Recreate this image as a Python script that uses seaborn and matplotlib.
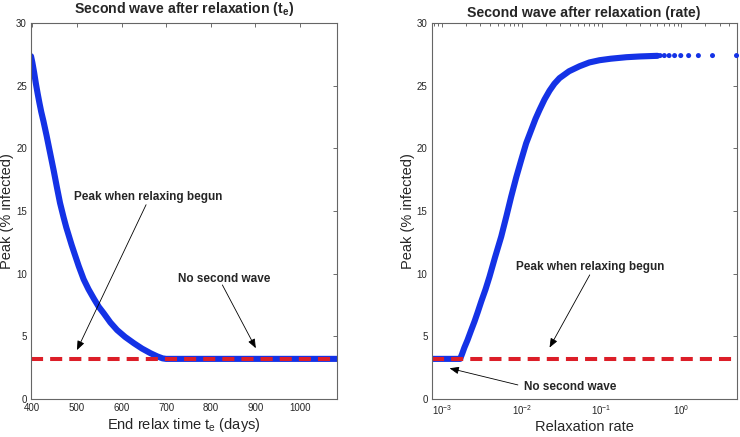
import numpy as np
import pandas as pd
import seaborn as sns
import matplotlib
matplotlib.use("Agg")
import matplotlib.pyplot as plt

# left panel: peak vs end of relaxation time
te_days = [397, 400, 404, 408, 412, 416, 420, 425, 432, 440, 448, 455, 462,
           470, 476, 482, 488, 495, 504, 515, 526, 538, 549, 560, 575, 590,
           608, 628, 646, 665, 680, 692, 700, 800, 900, 1000, 1083]
peak_te = [27.35, 26.85, 26.05, 25.15, 24.35, 23.6, 22.9, 22.15, 21.0, 19.6,
           18.2, 16.9, 15.65, 14.5, 13.7, 13.0, 12.3, 11.55, 10.6, 9.55, 8.75,
           8.0, 7.35, 6.84, 6.1, 5.5, 4.95, 4.44, 4.02, 3.65, 3.4, 3.24, 3.2,
           3.2, 3.2, 3.2, 3.2]

# right panel: peak vs relaxation rate (dense part)
rate = [7.4e-4, 1.0e-3, 1.68e-3, 1.78e-3, 1.9e-3, 2.08e-3, 2.3e-3, 2.55e-3,
        2.8e-3, 3.1e-3, 3.5e-3, 3.92e-3, 4.6e-3, 5.5e-3, 6.4e-3, 7.34e-3,
        8.5e-3, 9.8e-3, 1.13e-2, 1.31e-2, 1.48e-2, 1.66e-2, 1.92e-2, 2.22e-2,
        2.55e-2, 2.96e-2, 3.9e-2, 5.28e-2, 7.0e-2, 9.4e-2, 0.13, 0.204, 0.3,
        0.5]
peak_rate = [3.2, 3.2, 3.2, 3.6, 4.1, 4.7, 5.45, 6.2, 6.95, 7.8, 8.75, 9.75,
             11.3, 12.95, 14.6, 16.15, 17.7, 19.07, 20.4, 21.47, 22.35, 23.06,
             23.9, 24.6, 25.15, 25.6, 26.15, 26.55, 26.85, 27.03, 27.15, 27.27,
             27.33, 27.38]
# right panel: the separate dots at the high-rate end
rate_dots = [0.54, 0.61, 0.70, 0.82, 0.98, 1.23, 1.63, 2.45, 4.9]
peak_dots = [27.4, 27.4, 27.4, 27.4, 27.4, 27.4, 27.4, 27.4, 27.4]

peak_at_relax = 3.2

sns.set_style("white")
plt.rcParams["font.family"] = ["Liberation Sans", "DejaVu Sans"]
plt.rcParams["mathtext.fontset"] = "custom"
plt.rcParams["mathtext.rm"] = "Liberation Sans"
plt.rcParams["mathtext.it"] = "Liberation Sans"
plt.rcParams["mathtext.bf"] = "Liberation Sans:bold"

BLUE = "#1432e6"
RED = "#dc1e28"

fig = plt.figure(figsize=(7.4, 4.37), dpi=100)
ax1 = fig.add_axes([0.0419, 0.087, 0.4135, 0.8604])
ax2 = fig.add_axes([0.5834, 0.087, 0.4119, 0.8604])

left = pd.DataFrame({"te": te_days, "peak": peak_te})
sns.lineplot(data=left, x="te", y="peak", ax=ax1, color=BLUE, lw=4.4,
             solid_capstyle="round", solid_joinstyle="round", sort=False)
ax1.axhline(peak_at_relax, color=RED, lw=2.9, ls=(0, (3.0, 1.75)))

right = pd.DataFrame({"rate": rate, "peak": peak_rate})
dots = pd.DataFrame({"rate": rate_dots, "peak": peak_dots})
sns.lineplot(data=right, x="rate", y="peak", ax=ax2, color=BLUE, lw=4.4,
             solid_capstyle="round", solid_joinstyle="round", sort=False)
sns.scatterplot(data=dots, x="rate", y="peak", ax=ax2, color=BLUE, s=13,
                edgecolor="none", clip_on=False, zorder=3)
ax2.axhline(peak_at_relax, color=RED, lw=2.9, ls=(0, (3.0, 1.75)))
ax2.set_xscale("log")

ax1.set_xlim(397, 1083)
ax1.set_xticks([400, 500, 600, 700, 800, 900, 1000])
ax2.set_xlim(7.4e-4, 4.9)
for ax in (ax1, ax2):
    ax.set_ylim(0, 30)
    ax.set_yticks([0, 5, 10, 15, 20, 25, 30])
    ax.tick_params(which="both", direction="in", top=True, right=True,
                   labelsize=7, width=0.6, color="#555555", pad=3)
    ax.tick_params(which="major", length=3.2)
    ax.tick_params(which="minor", length=1.8)
    for sp in ax.spines.values():
        sp.set_color("#666666")
        sp.set_linewidth(0.8)
    ax.set_ylabel("Peak (% infected)", fontsize=10.5, labelpad=1.5)

ax1.set_xlabel(r"End relax time t$_\mathrm{e}$ (days)", fontsize=10.5,
               labelpad=2)
ax2.set_xlabel("Relaxation rate", fontsize=10.5, labelpad=2)
ax1.set_title(r"Second wave after relaxation (t$_\mathbf{e}$)", fontsize=10.2,
              fontweight="bold", pad=7)
ax2.set_title("Second wave after relaxation (rate)", fontsize=10.2,
              fontweight="bold", pad=4.5)

arrow = dict(arrowstyle="-|>,head_length=0.55,head_width=0.22", color="black",
             lw=0.6, shrinkA=0, shrinkB=0)
tfont = dict(fontsize=8.5, fontweight="bold", ha="center", va="baseline")

ax1.text(659, 15.9, "Peak when relaxing begun", **tfont)
ax1.annotate("", xy=(500, 3.9), xytext=(655, 15.5), arrowprops=arrow)
ax1.text(830, 9.36, "No second wave", **tfont)
ax1.annotate("", xy=(901, 4.05), xytext=(826, 9.1), arrowprops=arrow)

ax2.text(0.0726, 10.3, "Peak when relaxing begun", **tfont)
ax2.annotate("", xy=(0.0222, 4.1), xytext=(0.0708, 9.9), arrowprops=arrow)
ax2.text(0.040, 0.72, "No second wave", **tfont)
ax2.annotate("", xy=(1.24e-3, 2.45), xytext=(8.9e-3, 1.12), arrowprops=arrow)

fig.savefig("out.png", dpi=100)
